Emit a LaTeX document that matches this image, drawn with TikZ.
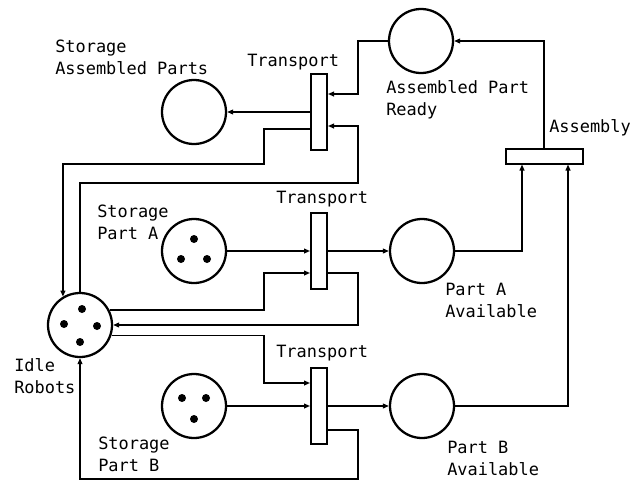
\documentclass[tikz,border=0pt]{standalone}
\usepackage{fontspec}
\setmonofont{DejaVu Sans Mono}
\usetikzlibrary{calc,arrows.meta}

\tikzset{
  place/.style={circle,draw,line width=1.7pt,minimum size=48pt,inner sep=0pt},
  trans/.style={rectangle,draw,line width=1.5pt,minimum width=12pt,minimum height=57pt,inner sep=0pt},
  asmbox/.style={rectangle,draw,line width=1.5pt,minimum width=57.75pt,minimum height=11.25pt,inner sep=0pt},
  flow/.style={line width=1pt,-{Triangle[length=4.5pt,width=3.6pt]}},
  lbl/.style={font=\ttfamily\fontsize{12.7pt}{16.5pt}\selectfont,align=left,anchor=west,inner sep=0pt}
}

\begin{document}
\begin{tikzpicture}[x=0.75pt,y=-0.75pt]
  % Frame
  \useasboundingbox (0,0) rectangle (631,482);

  % Lanes for the return lines
  \coordinate (xl) at (264,0);
  \coordinate (xr) at (358,0);
  \coordinate (r1) at (0,164);
  \coordinate (r2) at (0,183);
  \coordinate (r3) at (0,479);

  % Places
  \node[place] (sap) at (194,112) {};
  \node[place] (apr) at (421,41) {};
  \node[place] (spa) at (194,251) {};
  \node[place] (paa) at (422,251) {};
  \node[place] (ir)  at (80,325) {};
  \node[place] (spb) at (194,406) {};
  \node[place] (pba) at (422,406) {};

  % Transitions
  \node[trans] (t1) at (319,112) {};
  \node[trans] (t2) at (319,251) {};
  \node[trans] (t3) at (319,406) {};
  \node[asmbox] (asm) at (544,156) {};

  % Ports
  \coordinate (t1a) at ($(t1.east)+(0,-18)$);
  \coordinate (t1b) at ($(t1.west)+(0,17)$);
  \coordinate (t1c) at ($(t1.east)+(0,14)$);
  \coordinate (t2a) at ($(t2.west)+(0,22)$);
  \coordinate (t2b) at ($(t2.east)+(0,22)$);
  \coordinate (t3a) at ($(t3.west)+(0,-23)$);
  \coordinate (t3b) at ($(t3.east)+(0,24)$);
  \coordinate (asma) at ($(asm.south)+(-22,0)$);
  \coordinate (asmb) at ($(asm.south)+(24,0)$);

  % Tokens
  \fill ($(spa)+(0,-12)$) circle (3pt);
  \fill ($(spa)+(-13,8)$) circle (3pt);
  \fill ($(spa)+(13,8)$) circle (3pt);

  \fill ($(ir)+(2,-16)$) circle (3pt);
  \fill ($(ir)+(-16,-1)$) circle (3pt);
  \fill ($(ir)+(17,1)$) circle (3pt);
  \fill ($(ir)+(0,17)$) circle (3pt);

  \fill ($(spb)+(-12,-8)$) circle (3pt);
  \fill ($(spb)+(12,-8)$) circle (3pt);
  \fill ($(spb)+(0,13)$) circle (3pt);

  % Top transport
  \draw[flow] (t1) -- (sap);
  \draw[flow] (apr.west) -| (xr |- t1a) -- (t1a);
  \draw[flow] (t1b) -| (xl |- r1) -| (ir.121);
  \draw[flow] (ir.north) |- (xr |- r2) |- (t1c);
  \draw[flow] (asm.north) |- (apr.east);

  % Part A
  \draw[flow] (spa) -- (t2);
  \draw[flow] (t2) -- (paa);
  \draw[flow] (ir.27) -| (xl |- t2a) -- (t2a);
  \draw[flow] (t2b) -| (xr |- ir.east) -- (ir.east);
  \draw[flow] (paa.east) -| (asma);

  % Part B
  \draw[flow] (ir.-18) -| (xl |- t3a) -- (t3a);
  \draw[flow] (spb) -- (t3);
  \draw[flow] (t3) -- (pba);
  \draw[flow] (t3b) -| (xr |- r3) -| (ir.south);
  \draw[flow] (pba.east) -| (asmb);

  % Labels
  \node[lbl] (sapl) at ($(sap)+(-139,-55)$) {Storage\\Assembled Parts};
  \node[lbl] (t1l)  at ($(t1)+(-72,-50)$) {Transport};
  \node[lbl] (aprl) at ($(apr)+(-35,59)$) {Assembled Part\\Ready};
  \node[lbl] (asml) at ($(asm)+(5,-28)$) {Assembly};
  \node[lbl] (spal) at ($(spa)+(-97,-29)$) {Storage\\Part A};
  \node[lbl] (t2l)  at ($(t2)+(-43,-52)$) {Transport};
  \node[lbl] (paal) at ($(paa)+(23,49)$) {Part A\\Available};
  \node[lbl] (irl)  at ($(ir)+(-66,51)$) {Idle\\Robots};
  \node[lbl] (t3l)  at ($(t3)+(-43,-53)$) {Transport};
  \node[lbl] (spbl) at ($(spb)+(-96,48)$) {Storage\\Part B};
  \node[lbl] (pbal) at ($(pba)+(25,52)$) {Part B\\Available};
\end{tikzpicture}
\end{document}
